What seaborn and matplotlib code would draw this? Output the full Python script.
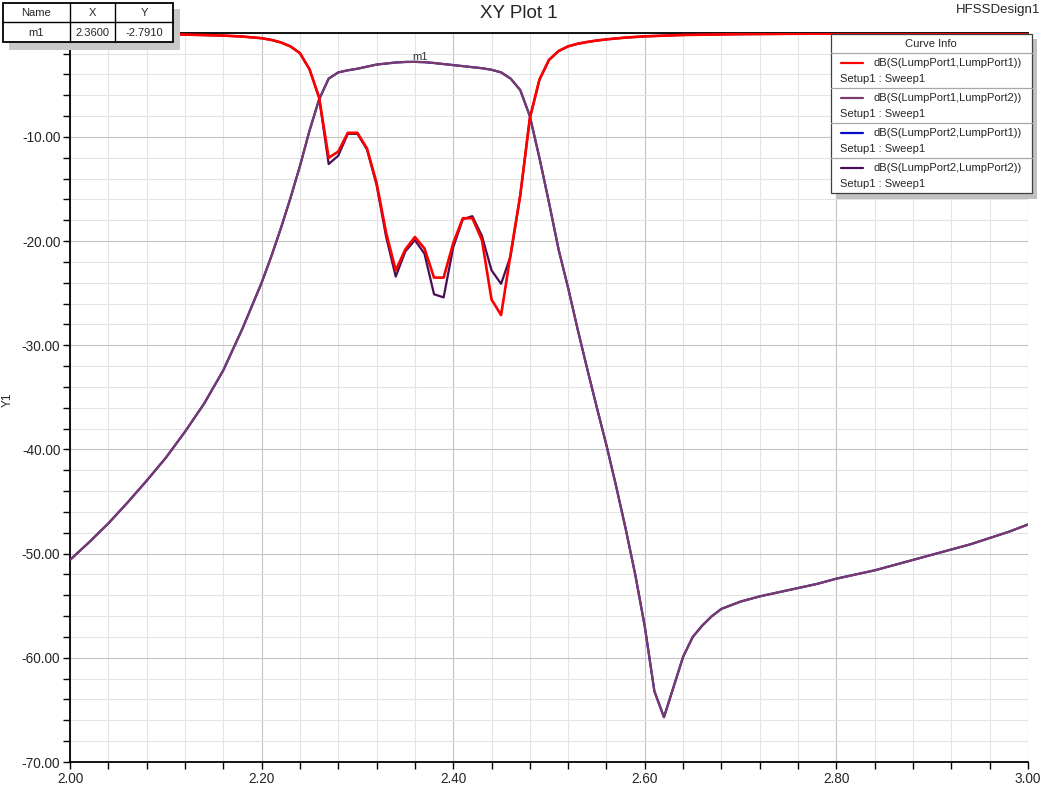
import numpy as np
import pandas as pd
import seaborn as sns
import matplotlib.pyplot as plt
from matplotlib.ticker import MultipleLocator, FormatStrFormatter, FuncFormatter
from matplotlib.patches import Rectangle

sns.set_style("white")
plt.rcParams['font.family'] = ['Liberation Sans', 'DejaVu Sans']

# frequency grids (GHz)
freq_s12 = [2.00, 2.02, 2.04, 2.06, 2.08, 2.10, 2.12, 2.14, 2.16, 2.18, 2.20,
            2.21, 2.22, 2.23, 2.24, 2.25, 2.26, 2.27, 2.28, 2.29, 2.30, 2.31, 2.32,
            2.33, 2.34, 2.35, 2.36, 2.37, 2.38, 2.39, 2.40, 2.41, 2.42, 2.43, 2.44,
            2.45, 2.46, 2.47, 2.48, 2.49, 2.50, 2.51, 2.52, 2.53, 2.54, 2.55, 2.56,
            2.57, 2.58, 2.59, 2.60, 2.61, 2.62, 2.63, 2.64, 2.65, 2.66, 2.67, 2.68,
            2.70, 2.72, 2.74, 2.76, 2.78, 2.80, 2.82, 2.84, 2.86, 2.88, 2.90, 2.92,
            2.94, 2.96, 2.98, 3.00]
s12_db = [-50.6, -48.9, -47.1, -45.1, -43.0, -40.8, -38.3, -35.6, -32.4, -28.4, -24.0,
          -21.5, -18.8, -15.9, -12.8, -9.4, -6.4, -4.4, -3.8, -3.6, -3.45, -3.25, -3.05,
          -2.95, -2.85, -2.8, -2.79, -2.82, -2.9, -3.0, -3.1, -3.2, -3.3, -3.4, -3.55,
          -3.8, -4.4, -5.5, -8.0, -12.0, -16.3, -20.8, -24.5, -28.5, -32.3, -36.0, -39.6,
          -43.5, -47.6, -52.0, -57.0, -63.2, -65.7, -62.8, -59.9, -58.0, -56.9, -56.0, -55.3,
          -54.6, -54.1, -53.7, -53.3, -52.9, -52.4, -52.0, -51.6, -51.1, -50.6, -50.1, -49.6,
          -49.1, -48.5, -47.9, -47.2]
# S21 sits exactly under S12 (reciprocal network)
s21_db = list(s12_db)

freq_s11 = [2.00, 2.04, 2.08, 2.12, 2.16, 2.18, 2.20, 2.21, 2.22, 2.23, 2.24, 2.25,
            2.26, 2.27, 2.28, 2.29, 2.30, 2.31, 2.32, 2.33, 2.34, 2.35, 2.36, 2.37,
            2.38, 2.39, 2.40, 2.41, 2.42, 2.43, 2.44, 2.45, 2.46, 2.47, 2.48, 2.49,
            2.50, 2.51, 2.52, 2.53, 2.54, 2.55, 2.56, 2.58, 2.60, 2.64, 2.70, 2.80,
            2.90, 3.00]
s11_db = [-0.08, -0.1, -0.12, -0.17, -0.27, -0.36, -0.52, -0.68, -0.92, -1.3, -1.95, -3.5,
          -6.2, -12.0, -11.4, -9.6, -9.6, -11.1, -14.4, -19.2, -22.8, -20.8, -19.6, -20.7,
          -23.5, -23.5, -20.2, -17.8, -17.8, -19.9, -25.6, -27.1, -21.2, -15.6, -8.2, -4.5,
          -2.6, -1.75, -1.3, -1.05, -0.88, -0.74, -0.63, -0.46, -0.34, -0.21, -0.13, -0.07,
          -0.04, -0.02]
s22_db = [-0.08, -0.1, -0.12, -0.17, -0.27, -0.36, -0.52, -0.68, -0.92, -1.3, -1.95, -3.5,
          -6.2, -12.6, -11.8, -9.7, -9.7, -11.2, -14.6, -19.6, -23.4, -21.0, -19.9, -21.2,
          -25.1, -25.4, -20.6, -17.9, -17.6, -19.5, -22.8, -24.1, -21.4, -15.6, -8.2, -4.5,
          -2.6, -1.75, -1.3, -1.05, -0.88, -0.74, -0.63, -0.46, -0.34, -0.21, -0.13, -0.07,
          -0.04, -0.02]

curve_names = ["dB(S(LumpPort1,LumpPort1))", "dB(S(LumpPort1,LumpPort2))",
               "dB(S(LumpPort2,LumpPort1))", "dB(S(LumpPort2,LumpPort2))"]
curve_colors = ["#ff0000", "#7b3b69", "#0a0acc", "#4a0e55"]
curve_freqs = [freq_s11, freq_s12, freq_s12, freq_s11]
curve_vals = [s11_db, s12_db, s21_db, s22_db]
curve_widths = [1.9, 1.6, 1.6, 1.6]

marker_name, marker_x, marker_y = "m1", 2.36, -2.791

W, H = 1042, 789
fig = plt.figure(figsize=(W / 100, H / 100), dpi=100)
ax = fig.add_axes([70 / W, 1 - 762 / H, 958 / W, (762 - 32.8) / H])

# first curve is drawn on top, like HFSS does
for i in range(len(curve_names)):
    sns.lineplot(x=curve_freqs[i], y=curve_vals[i], ax=ax, color=curve_colors[i],
                 linewidth=curve_widths[i], estimator=None, legend=False,
                 zorder=10 - i)

ax.annotate(marker_name, (marker_x, marker_y), xytext=(3.6, 3.6),
            textcoords='offset points', ha='center', va='center',
            fontsize=8, color='#333333', zorder=20)

ax.set_xlim(2.0, 3.0)
ax.set_ylim(-70, 0)
ax.xaxis.set_major_locator(MultipleLocator(0.2))
ax.xaxis.set_minor_locator(MultipleLocator(0.04))
ax.yaxis.set_major_locator(MultipleLocator(10))
ax.yaxis.set_minor_locator(MultipleLocator(2))
ax.xaxis.set_major_formatter(FormatStrFormatter('%.2f'))
# the 0.00 label sits under the marker table in HFSS, so leave it blank
ax.yaxis.set_major_formatter(FuncFormatter(lambda v, p: '' if v > -1 else f'{v:.2f}'))
ax.set_axisbelow(True)
ax.grid(which='major', color='#c4c4c4', linewidth=0.8)
ax.grid(which='minor', color='#e4e4e4', linewidth=0.8)
ax.tick_params(which='both', bottom=True, left=True, direction='out',
               length=5, width=1, color='black', labelsize=9.8, pad=2)
ax.set_xlabel('')
ax.set_ylabel('')
for side in ['left', 'bottom', 'top']:
    ax.spines[side].set_visible(True)
    ax.spines[side].set_color('black')
    ax.spines[side].set_linewidth(1.3)
ax.spines['right'].set_visible(False)

fig.text(519 / W, 1 - 14 / H, 'XY Plot 1', ha='center', va='center', fontsize=13.5)
fig.text(1040 / W, 1 - 10 / H, 'HFSSDesign1', ha='right', va='center', fontsize=9.5)
fig.text(8 / W, 1 - 400 / H, 'Y1', rotation=90, ha='center', va='center', fontsize=8.5)

# overlay in pixel coordinates for the marker table and the curve info box
ov = fig.add_axes([0, 0, 1, 1], zorder=10)
ov.set_xlim(0, W)
ov.set_ylim(H, 0)
ov.axis('off')
ov.patch.set_alpha(0)

# marker table
ov.add_patch(Rectangle((9, 9), 171, 41, facecolor='#c8c8c8', edgecolor='none'))
ov.add_patch(Rectangle((3, 3), 170, 39, facecolor='white', edgecolor='black', lw=1.3))
ov.plot([3, 173], [22, 22], color='black', lw=1)
ov.plot([70, 70], [3, 42], color='black', lw=1)
ov.plot([115, 115], [3, 42], color='black', lw=1)
for cx, t1, t2 in [(36, 'Name', marker_name), (92, 'X', f'{marker_x:.4f}'),
                   (144, 'Y', f'{marker_y:.4f}')]:
    ov.text(cx, 13, t1, ha='center', va='center', fontsize=8)
    ov.text(cx, 32.5, t2, ha='center', va='center', fontsize=8)

# curve info box
ov.add_patch(Rectangle((836, 39), 201, 160, facecolor='#c0c0c0', edgecolor='none'))
ov.add_patch(Rectangle((830.5, 33.5), 201, 159, facecolor='white',
                       edgecolor='#404040', lw=0.9))
ov.text(931, 44, 'Curve Info', ha='center', va='center', fontsize=8)
ov.plot([830.5, 1031.5], [53.3, 53.3], color='#a8a8a8', lw=0.9)
for i, name in enumerate(curve_names):
    y0 = 63.3 + 35 * i
    ov.plot([841, 863], [y0, y0], color=curve_colors[i], lw=1.6)
    ov.text(873, y0, name, ha='left', va='center', fontsize=8)
    ov.text(840, y0 + 16, 'Setup1 : Sweep1', ha='left', va='center', fontsize=8)
    if i < 3:
        ov.plot([830.5, 1031.5], [y0 + 25, y0 + 25], color='#a8a8a8', lw=0.9)

fig.savefig('out.png', dpi=100)
